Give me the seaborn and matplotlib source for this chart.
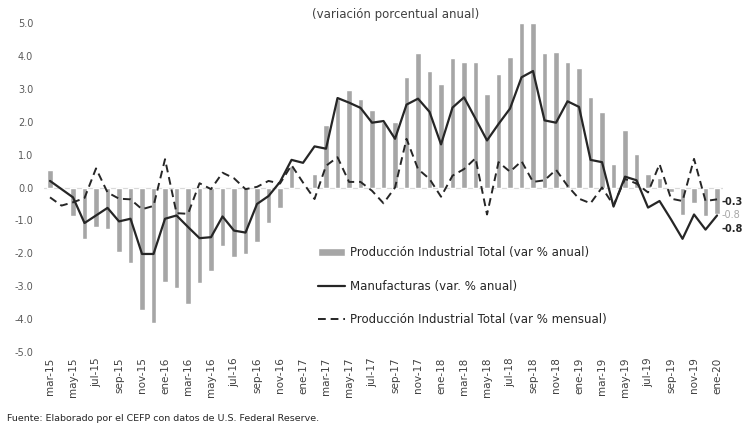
import numpy as np
import pandas as pd
import seaborn as sns
import matplotlib.pyplot as plt

sns.set_style('white')
plt.rcParams['font.family'] = ['DejaVu Sans']

# meses mar-15 ... ene-20
meses = ['mar-15', 'abr-15', 'may-15', 'jun-15', 'jul-15', 'ago-15', 'sep-15', 'oct-15', 'nov-15', 'dic-15',
         'ene-16', 'feb-16', 'mar-16', 'abr-16', 'may-16', 'jun-16', 'jul-16', 'ago-16', 'sep-16', 'oct-16',
         'nov-16', 'dic-16', 'ene-17', 'feb-17', 'mar-17', 'abr-17', 'may-17', 'jun-17', 'jul-17', 'ago-17',
         'sep-17', 'oct-17', 'nov-17', 'dic-17', 'ene-18', 'feb-18', 'mar-18', 'abr-18', 'may-18', 'jun-18',
         'jul-18', 'ago-18', 'sep-18', 'oct-18', 'nov-18', 'dic-18', 'ene-19', 'feb-19', 'mar-19', 'abr-19',
         'may-19', 'jun-19', 'jul-19', 'ago-19', 'sep-19', 'oct-19', 'nov-19', 'dic-19', 'ene-20']

# Producción Industrial Total (var % anual) - barras
pi_anual = [0.52, -0.05, -0.88, -1.58, -1.21, -1.26, -1.95, -2.30, -3.73, -4.11,
            -2.86, -3.04, -3.53, -2.89, -2.55, -1.77, -2.10, -2.02, -1.66, -1.09,
            -0.63, 0.65, 0.02, 0.41, 1.91, 2.70, 2.96, 2.70, 2.37, 1.99,
            1.99, 3.35, 4.10, 3.54, 3.15, 3.93, 3.81, 3.81, 2.85, 3.44,
            3.97, 5.00, 5.00, 4.10, 4.11, 3.81, 3.64, 2.74, 2.29, 0.71,
            1.74, 1.03, 0.40, 0.30, -0.15, -0.83, -0.47, -0.88, -0.80]

# Manufacturas (var. % anual)
manuf_anual = [0.20, -0.05, -0.30, -1.08, -0.85, -0.62, -1.03, -0.95, -2.02, -2.02,
               -0.95, -0.85, -1.20, -1.54, -1.51, -0.88, -1.31, -1.37, -0.50, -0.26,
               0.17, 0.84, 0.75, 1.25, 1.18, 2.72, 2.58, 2.42, 1.97, 2.02,
               1.48, 2.52, 2.70, 2.30, 1.31, 2.43, 2.74, 2.09, 1.43, 1.93,
               2.40, 3.35, 3.54, 2.04, 1.97, 2.62, 2.45, 0.84, 0.77, -0.58,
               0.33, 0.22, -0.61, -0.41, -0.97, -1.56, -0.82, -1.28, -0.85]

# Producción Industrial Total (var % mensual)
pi_mensual = [-0.30, -0.55, -0.45, -0.32, 0.58, -0.15, -0.34, -0.36, -0.66, -0.56,
              0.86, -0.78, -0.80, 0.13, -0.05, 0.45, 0.28, -0.05, 0.02, 0.20,
              0.12, 0.68, 0.15, -0.35, 0.66, 0.92, 0.17, 0.17, -0.10, -0.48,
              0.00, 1.48, 0.56, 0.26, -0.28, 0.36, 0.56, 0.89, -0.82, 0.77,
              0.48, 0.80, 0.17, 0.22, 0.54, 0.05, -0.34, -0.48, 0.00, -0.54,
              0.26, 0.12, -0.15, 0.71, -0.34, -0.41, 0.87, -0.41, -0.36]

etiquetas_fin = ['-0.3', '-0.8', '-0.8']

lab_barra = 'Producción Industrial Total (var % anual)'
lab_manuf = 'Manufacturas (var. % anual)'
lab_mensual = 'Producción Industrial Total (var % mensual)'

df = pd.DataFrame({'pos': np.arange(len(meses)), 'mes': meses,
                   'pi_anual': pi_anual, 'manuf': manuf_anual, 'pi_mensual': pi_mensual})

fig = plt.figure(figsize=(7.49, 4.26), dpi=100)
ax = fig.add_axes([0.0591, 0.1737, 0.9059, 0.7723])

sns.barplot(x='pos', y='pi_anual', data=df, color='#a6a6a6', saturation=1, width=0.45,
            label=lab_barra, ax=ax, zorder=2)
ax.axhline(0, color='#d9d9d9', lw=0.9, zorder=1)
sns.lineplot(x='pos', y='manuf', data=df, color='#262626', lw=1.6,
             label=lab_manuf, ax=ax, zorder=3)
sns.lineplot(x='pos', y='pi_mensual', data=df, color='#262626', lw=1.4, linestyle=(0, (4, 2.5)),
             label=lab_mensual, ax=ax, zorder=3)

# ejes
ax.set_xlim(-0.5, len(meses) - 0.5)
ax.set_ylim(-5, 5)
ax.set_yticks(np.arange(-5, 6, 1))
ax.set_yticklabels(['%.1f' % v for v in np.arange(-5, 6, 1)], fontsize=7, color='#595959')
ax.set_xticks(df['pos'][::2])
ax.set_xticklabels(df['mes'][::2], rotation=90, fontsize=7.5, color='#404040')
ax.tick_params(axis='x', length=0, pad=4)
ax.tick_params(axis='y', length=0, pad=8)
ax.set_xlabel('')
ax.set_ylabel('')
sns.despine(ax=ax, left=True, bottom=True)

# etiquetas del último dato
ult = len(meses) - 1
ax.annotate(etiquetas_fin[0], xy=(ult, pi_mensual[-1]), xytext=(3, -2), textcoords='offset points',
            fontsize=7, fontweight='bold', color='#262626', va='center')
ax.annotate(etiquetas_fin[1], xy=(ult, pi_anual[-1]), xytext=(3, -1), textcoords='offset points',
            fontsize=7, color='#a6a6a6', va='center')
ax.annotate(etiquetas_fin[2], xy=(ult, manuf_anual[-1]), xytext=(3, -10), textcoords='offset points',
            fontsize=7, fontweight='bold', color='#262626', va='center')

# leyenda, en el orden del original
h, l = ax.get_legend_handles_labels()
orden = [l.index(lab_barra), l.index(lab_manuf), l.index(lab_mensual)]
ax.legend([h[i] for i in orden], [l[i] for i in orden], loc='upper left',
          bbox_to_anchor=(0.4246, 0.4225), bbox_transform=fig.transFigure,
          frameon=False, fontsize=8.5, labelspacing=1.75, handlelength=2.3, handletextpad=0.4,
          borderpad=0, borderaxespad=0, labelcolor='#262626')

fig.text(0.528, 0.965, '(variación porcentual anual)', ha='center', va='center', fontsize=8.5, color='#404040')
fig.text(0.01, 0.018, 'Fuente: Elaborado por el CEFP con datos de U.S. Federal Reserve.',
         ha='left', va='center', fontsize=6.8, color='#262626')

fig.savefig('out.png', dpi=100)
